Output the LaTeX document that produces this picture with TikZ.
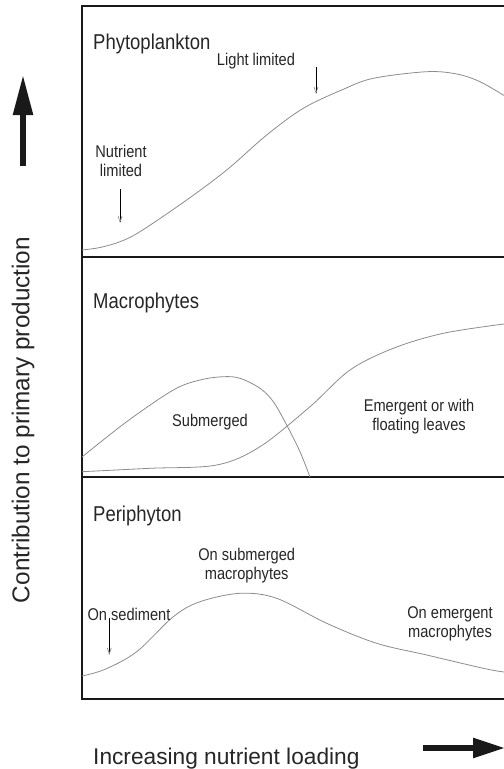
\documentclass[tikz,border=0pt]{standalone}
\usepackage{fontspec}
\setmainfont{Liberation Sans}[FakeStretch=0.86]
\newfontfamily\widefont{Liberation Sans}
\usetikzlibrary{arrows.meta}
\begin{document}
\begin{tikzpicture}[x=1bp,y=-1bp,
  frame/.style={line width=1.3bp, draw=black!90},
  curve/.style={draw=black!45, line width=0.8bp},
  title/.style={font=\fontsize{21.5bp}{24bp}\selectfont, anchor=base west, inner sep=0, text=black!85},
  lbl/.style={font=\fontsize{17bp}{19bp}\selectfont, inner sep=0, align=center, text=black!85},
  pointer/.style={draw=black, line width=0.7bp, -{Straight Barb[length=6bp,width=4bp,color=black!45]}},
  bigarrow/.style={draw=black!90, line width=5.5bp, -{Triangle[length=40bp,width=19bp]}}
]
\useasboundingbox (0,0) rectangle (504,769);

% frame
\draw[frame] (504,6) -- (82,6) -- (82,699) -- (504,699);
\draw[frame] (82,257) -- (504,257);
\draw[frame] (82,477) -- (504,477);

% ---------- Phytoplankton ----------
\node[title] (phyto) at (93,49.5) {Phytoplankton};
\draw[curve] plot[smooth,tension=0.55] coordinates {(82,250) (100,247.5) (120,241.7) (140,231.7) (186.7,200) (226.7,170) (266.7,135) (303.3,108.3) (343.3,89.3) (373.3,78.3) (426.7,71.7) (456.7,74) (480,81.7) (504,95.5)};
\node[lbl, anchor=base] (light) at (256,65.5) {Light limited};
\node[lbl, anchor=north] (nutr) at (121,145.3) {Nutrient\\limited};
\coordinate (lightA) at (316,67);
\coordinate (lightB) at (316,94);
\coordinate (nutrA) at (120,189);
\coordinate (nutrB) at (120,223);
\draw[pointer] (lightA) -- (lightB);
\draw[pointer] (nutrA) -- (nutrB);

% ---------- Macrophytes ----------
\node[title] (macro) at (93,308) {Macrophytes};
\draw[curve] plot[smooth,tension=0.55] coordinates {(82,457) (126.7,421.7) (173.3,390) (200,380) (223.3,376.7) (240,378.3) (260,388.3) (273.3,401.7) (286.7,425) (300,451.7) (310,477)};
\draw[curve] plot[smooth,tension=0.55] coordinates {(82,471.7) (150,468.3) (216.7,465) (260,446.7) (310,406.7) (350,370) (393.3,348.3) (443.3,333.3) (504,324)};
\node[lbl, anchor=base] (subm) at (210,426.7) {Submerged};
\node[lbl, anchor=north] (emerg) at (419,399.3) {Emergent or with\\floating leaves};

% ---------- Periphyton ----------
\node[title] (peri) at (93,521.7) {Periphyton};
\draw[curve] plot[smooth,tension=0.55] coordinates {(82,676) (105,669.3) (136.7,651.7) (173.3,616.7) (200,601.7) (240,593.3) (276.7,598.3) (326.7,623.3) (376.7,643.3) (426.7,655) (483.3,668.3) (504,672)};
\node[lbl, anchor=north] (onsub) at (246.7,548.3) {On submerged\\macrophytes};
\node[lbl, anchor=base] (onsed) at (129,620) {On sediment};
\node[lbl, anchor=north] (onem) at (450,606.9) {On emergent\\macrophytes};
\coordinate (sedA) at (109.3,617.7);
\coordinate (sedB) at (109.3,655);
\draw[pointer] (sedA) -- (sedB);

% ---------- axes ----------
\coordinate (yA) at (23,166);
\coordinate (yB) at (23,75);
\draw[bigarrow] (yA) -- (yB);
\node[font=\widefont\fontsize{24.3bp}{27bp}\selectfont, rotate=90, inner sep=0, text=black!85] (ylab) at (23,420) {Contribution to primary production};
\coordinate (xA) at (423,748);
\coordinate (xB) at (505,748);
\draw[bigarrow, -{Triangle[length=32bp,width=19bp]}] (xA) -- (xB);
\node[font=\widefont\fontsize{22.7bp}{26bp}\selectfont, anchor=base west, inner sep=0, text=black!85] (xlab) at (93,764) {Increasing nutrient loading};
\end{tikzpicture}
\end{document}
